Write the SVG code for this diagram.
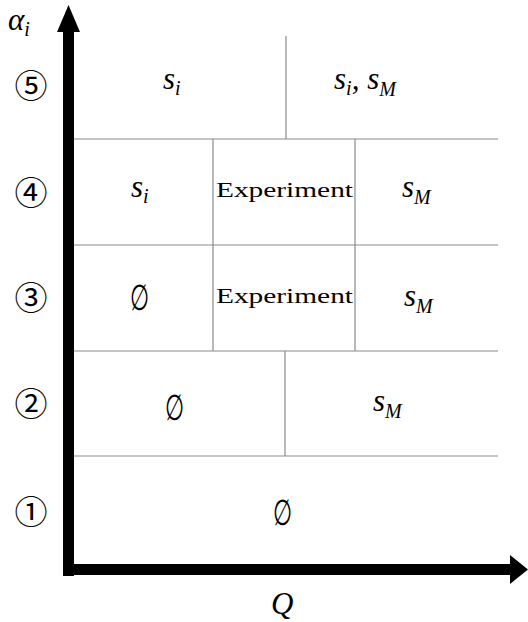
<svg xmlns="http://www.w3.org/2000/svg" width="528" height="622" viewBox="0 0 528 622">
<style>
.g{stroke:#8a8a8a;stroke-width:1.2;fill:none}
.m{font-family:"Liberation Serif","DejaVu Serif",serif;font-style:italic;font-size:31px;fill:#000}
.sub{font-size:20px}
.t{font-family:"Liberation Serif","DejaVu Serif",serif;font-size:21px;fill:#000}
.c{font-family:"Noto Sans CJK JP","Noto Sans CJK SC",sans-serif;font-size:33px;fill:#000}
.e{font-family:"DejaVu Serif","Liberation Serif",serif;font-size:31px;fill:#000}
</style>
<rect width="528" height="622" fill="#fff"/>
<g id="grid">
<line class="g" x1="74" y1="139" x2="498" y2="139"/>
<line class="g" x1="74" y1="245" x2="498" y2="245"/>
<line class="g" x1="74" y1="351" x2="498" y2="351"/>
<line class="g" x1="74" y1="456" x2="498" y2="456"/>
<line class="g" x1="286" y1="36" x2="286" y2="139"/>
<line class="g" x1="213" y1="139" x2="213" y2="351"/>
<line class="g" x1="355" y1="139" x2="355" y2="351"/>
<line class="g" x1="285" y1="351" x2="285" y2="456"/>
</g>
<g id="axes">
<rect x="63" y="30" width="11" height="546" fill="#000"/>
<polygon points="68.5,5 57,32 80,32" fill="#000"/>
<rect x="63" y="564" width="449" height="11" fill="#000"/>
<polygon points="528,569.5 510,555 510,584" fill="#000"/>
</g>
<g id="labels">
<text class="m" x="8" y="30">α<tspan class="sub" dy="6">i</tspan></text>
<text class="m" x="271" y="614">Q</text>
<text class="c" x="31" y="98" text-anchor="middle">⑤</text>
<text class="c" x="31" y="205" text-anchor="middle">④</text>
<text class="c" x="31" y="310" text-anchor="middle">③</text>
<text class="c" x="31" y="416" text-anchor="middle">②</text>
<text class="c" x="31" y="524" text-anchor="middle">①</text>
</g>
<g id="row5">
<text class="m" x="163" y="89">s<tspan class="sub" dy="6">i</tspan></text>
<text class="m" x="334" y="89">s<tspan class="sub" dy="6">i</tspan><tspan dy="-6">, s</tspan><tspan class="sub" dy="7">M</tspan></text>
</g>
<g id="row4">
<text class="m" x="131" y="197">s<tspan class="sub" dy="6">i</tspan></text>
<text class="t" x="216" y="197" textLength="137" lengthAdjust="spacingAndGlyphs">Experiment</text>
<text class="m" x="402" y="197">s<tspan class="sub" dy="7">M</tspan></text>
</g>
<g id="row3">
<text class="e" transform="translate(140,310) scale(0.7,1.15)" text-anchor="middle">∅</text>
<text class="t" x="216" y="303" textLength="137" lengthAdjust="spacingAndGlyphs">Experiment</text>
<text class="m" x="404" y="306">s<tspan class="sub" dy="7">M</tspan></text>
</g>
<g id="row2">
<text class="e" transform="translate(175,420) scale(0.7,1.15)" text-anchor="middle">∅</text>
<text class="m" x="373" y="411">s<tspan class="sub" dy="7">M</tspan></text>
</g>
<g id="row1">
<text class="e" transform="translate(283,525) scale(0.7,1.15)" text-anchor="middle">∅</text>
</g>
</svg>
